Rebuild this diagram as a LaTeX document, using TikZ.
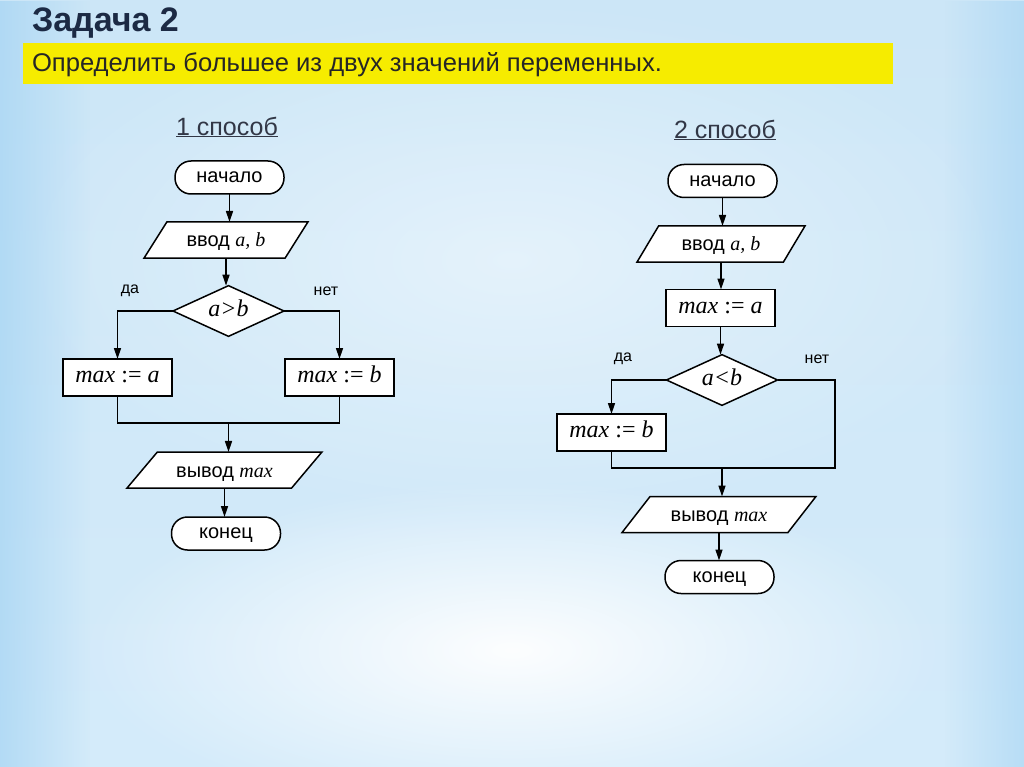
\documentclass[tikz,border=0pt]{standalone}
\usepackage{fontspec}
\setmainfont{Liberation Sans}
\newfontfamily\tms{Liberation Serif}
\usetikzlibrary{shapes.geometric,arrows.meta,fadings}
\tikzfading[name=glow, inner color=transparent!0, outer color=transparent!100]
\tikzfading[name=fromleft, left color=transparent!0, right color=transparent!100]
\tikzfading[name=fromright, left color=transparent!100, right color=transparent!0]
\definecolor{bgtop}{RGB}{204,230,247}
\definecolor{bgmid}{RGB}{222,240,251}
\definecolor{bgbot}{RGB}{212,235,250}
\definecolor{edgeblue}{RGB}{165,212,243}
\definecolor{titleblue}{RGB}{28,42,68}
\definecolor{barYellow}{RGB}{246,236,0}
\definecolor{headgray}{RGB}{50,55,70}
\begin{document}
\begin{tikzpicture}[x=1pt,y=-1pt,
  every node/.style={inner sep=0pt, outer sep=0pt},
  ctext/.style={text height=10.5pt, text depth=0pt},
  box/.style={ctext, draw, fill=white, line width=1.5pt, minimum width=109pt, minimum height=37pt, font=\tms\fontsize{24}{26}\selectfont},
  term/.style={ctext, draw, fill=white, line width=1.5pt, rounded corners=16pt, minimum width=109pt, minimum height=33pt, font=\fontsize{20}{22}\selectfont},
  io/.style={text height=14pt, text depth=0pt, draw, fill=white, line width=1.5pt, trapezium, trapezium stretches=true, minimum height=36pt, font=\fontsize{20}{22}\selectfont},
  cond/.style={ctext, draw, fill=white, line width=1.5pt, diamond, minimum width=111pt, minimum height=48pt, font=\tms\itshape\fontsize{24}{26}\selectfont},
  lab/.style={font=\fontsize{16}{18}\selectfont},
  head/.style={font=\fontsize{25}{28}\selectfont, text=headgray},
  arr/.style={line width=1.5pt, -{Triangle[length=11pt,width=7pt]}},
  ln/.style={line width=1.5pt}]
\useasboundingbox (0,0) rectangle (1024,767);
% background
\shade[top color=bgtop, middle color=bgmid, bottom color=bgbot] (0,0) rectangle (1024,767);
\fill[white, opacity=0.45, path fading=glow] (512,260) ellipse (520 and 260);
\fill[white, opacity=0.95, path fading=glow] (512,650) ellipse (430 and 170);
\fill[edgeblue, opacity=0.7, path fading=fromleft] (0,0) rectangle (90,767);
\fill[edgeblue, opacity=0.6, path fading=fromright] (944,0) rectangle (1024,767);
% title
\node[anchor=west, font=\bfseries\fontsize{34}{38}\selectfont, text=titleblue] (title) at (32,23) {Задача 2};
\fill[barYellow] (23,43) rectangle (893,84);
\node[anchor=west, font=\fontsize{25.6}{30}\selectfont, text=black!85] (task) at (32,65) {Определить большее из двух значений переменных.};
% method 1
\node[head] (h1) at (227,127) {\underline{1 способ}};
\node[term] (s1) at (229.5,177.5) {начало};
\node[io, trapezium left angle=42.7, trapezium right angle=137.3, minimum width=164pt] (in1) at (226,240) {ввод {\tms\itshape a, b}};
\node[cond] (d1) at (228.5,311) {a>b};
\node[box] (a1) at (117.5,377.5) {{\itshape max} := {\itshape a}};
\node[box] (b1) at (339.5,377.5) {{\itshape max} := {\itshape b}};
\coordinate (j1) at (228.5,423);
\node[io, trapezium left angle=32.7, trapezium right angle=147.3, minimum width=195pt] (o1) at (224.5,470) {вывод {\tms\itshape max}};
\node[term] (e1) at (226,533.5) {конец};
\node[lab] (da1) at (130,291) {да};
\node[lab] (net1) at (326,291) {нет};
\draw[arr] (s1.south) -- (s1.south |- in1.north);
\draw[arr] (in1.south) -- (in1.south |- d1.north);
\draw[arr] (d1.west) -| (a1.north);
\draw[arr] (d1.east) -| (b1.north);
\draw[ln] (a1.south) |- (j1) -| (b1.south);
\draw[arr] (j1) -- (j1 |- o1.north);
\draw[arr] (o1.south) -- (o1.south |- e1.north);
% method 2
\node[head] (h2) at (725,130) {\underline{2 способ}};
\node[term] (s2) at (722.5,181) {начало};
\node[io, trapezium left angle=45.8, trapezium right angle=134.2, minimum width=168pt] (in2) at (721,244) {ввод {\tms\itshape a, b}};
\node[box] (a2) at (720.5,308) {{\itshape max} := {\itshape a}};
\node[cond] (d2) at (722,380) {a<b};
\node[box] (b2) at (611.5,432.5) {{\itshape max} := {\itshape b}};
\coordinate (j2) at (722,468);
\coordinate (r2) at (835,468);
\node[io, trapezium left angle=35.5, trapezium right angle=144.5, minimum width=194pt] (o2) at (719,514.5) {вывод {\tms\itshape max}};
\node[term] (e2) at (719.5,577) {конец};
\node[lab] (da2) at (623,359) {да};
\node[lab] (net2) at (817,359) {нет};
\draw[arr] (s2.south) -- (s2.south |- in2.north);
\draw[arr] (in2.south) -- (in2.south |- a2.north);
\draw[arr] (a2.south) -- (a2.south |- d2.north);
\draw[arr] (d2.west) -| (b2.north);
\draw[ln] (d2.east) -| (r2) -- (j2);
\draw[ln] (b2.south) |- (j2);
\draw[arr] (j2) -- (j2 |- o2.north);
\draw[arr] (o2.south) -- (o2.south |- e2.north);
\end{tikzpicture}
\end{document}
